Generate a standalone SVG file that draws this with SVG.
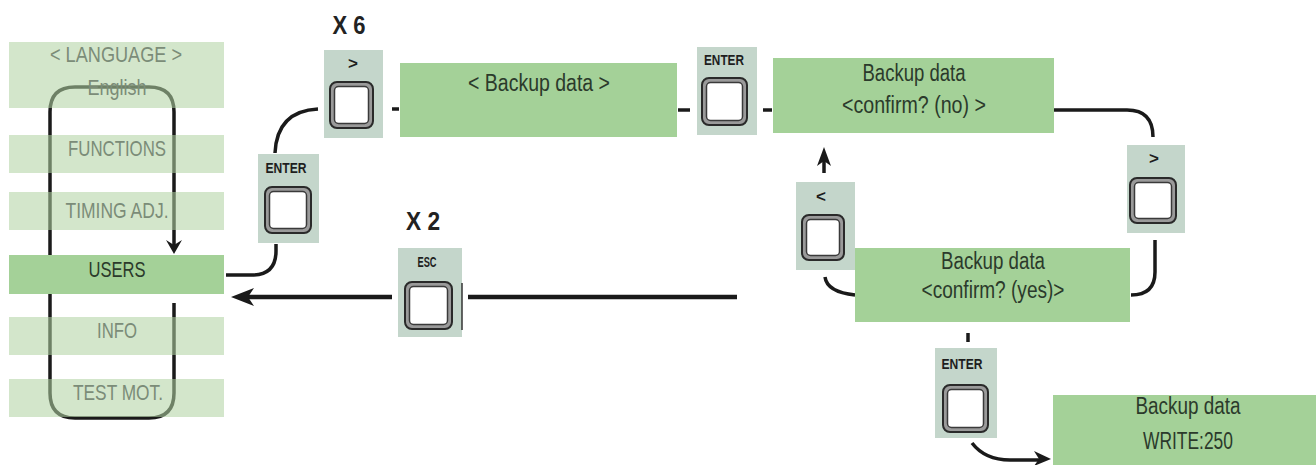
<svg xmlns="http://www.w3.org/2000/svg" width="1316" height="465" viewBox="0 0 1316 465">
<style>
.lite{fill:#b1d3a2;fill-opacity:0.56}
.box{fill:#a4d198}
.mt{font-family:"Liberation Sans",Arial,sans-serif;font-size:22px;fill:#7b8c78;text-anchor:middle}
.bt{font-family:"Liberation Sans",Arial,sans-serif;font-size:23px;fill:#2b3a2b;text-anchor:middle}
.panel{fill:#c4d6cb}
.ring{fill:#9a9a9a;stroke:#2a2a2a;stroke-width:2}
.face{fill:#ffffff;stroke:#3a3a3a;stroke-width:1.5}
.lbl{font-family:"Liberation Sans",Arial,sans-serif;font-weight:bold;font-size:14px;fill:#1e1e1e;text-anchor:middle}
.sym{font-family:"Liberation Sans",Arial,sans-serif;font-weight:bold;font-size:17px;fill:#1e1e1e;text-anchor:middle}
.cnt{font-family:"Liberation Sans",Arial,sans-serif;font-weight:bold;font-size:25px;fill:#222;text-anchor:middle}
.ln{fill:none;stroke:#1a1a1a;stroke-width:3.5;stroke-linecap:butt}
.hd{fill:#1a1a1a}
</style>

<g id="menu-loop">
<path class="ln" d="M174,303 V393 Q174,418 149,418 H75 Q50,418 50,393 V112 Q50,87 75,87 H149 Q174,87 174,112 V246"/>
<polygon class="hd" points="174,254 166,240 174,245 182,240"/>
</g>

<g id="menu-language"><rect class="lite" x="9" y="42" width="215" height="66"/><text class="mt" x="116" y="62" textLength="132" lengthAdjust="spacingAndGlyphs">&lt; LANGUAGE &gt;</text><text class="mt" x="117" y="95" textLength="59" lengthAdjust="spacingAndGlyphs">English</text></g>
<g id="menu-functions"><rect class="lite" x="9" y="135" width="215" height="38"/><text class="mt" x="117" y="156" textLength="98" lengthAdjust="spacingAndGlyphs">FUNCTIONS</text></g>
<g id="menu-timing"><rect class="lite" x="9" y="192" width="215" height="38"/><text class="mt" x="117" y="218" textLength="103" lengthAdjust="spacingAndGlyphs">TIMING ADJ.</text></g>
<g id="menu-users"><rect class="box" x="9" y="255" width="215" height="39"/><text class="bt" style="font-size:22px" x="117" y="277" textLength="57" lengthAdjust="spacingAndGlyphs">USERS</text></g>
<g id="menu-info"><rect class="lite" x="9" y="317" width="215" height="38"/><text class="mt" x="117" y="338" textLength="40" lengthAdjust="spacingAndGlyphs">INFO</text></g>
<g id="menu-testmot"><rect class="lite" x="9" y="379" width="215" height="38"/><text class="mt" x="118" y="400" textLength="90" lengthAdjust="spacingAndGlyphs">TEST MOT.</text></g>

<g id="connectors">
<path class="ln" d="M226,275 H252 Q276,275 276,251 V244"/>
<path class="ln" d="M275,153 Q277,111 318,109"/>
<path class="ln" d="M392,109 H399"/>
<path class="ln" d="M678,110 H690"/>
<path class="ln" d="M763,110 H772"/>
<path class="ln" d="M1054,110 H1127 Q1153,110 1153,137"/>
<path class="ln" d="M1155,240 V272 Q1155,295 1131,295"/>
<path class="ln" d="M855,295 Q827,292 825,277"/>
<path class="ln" d="M824,173 V160"/>
<polygon class="hd" points="824,147 831,166 824,161 817,166"/>
<path class="ln" style="stroke-width:4.5" d="M737,297 H468"/>
<path class="ln" style="stroke-width:4.5" d="M392,297 H246"/>
<polygon class="hd" points="231,297 254,288 248,297 254,306"/>
<path class="ln" d="M968,333 V342"/>
<path class="ln" d="M972,443 Q985,460 1010,460 H1040"/>
<polygon class="hd" points="1051,459 1034,451 1039,459 1034,466"/>
</g>

<g id="x6"><text class="cnt" x="349" y="34" textLength="33" lengthAdjust="spacingAndGlyphs">X 6</text></g>
<g id="x2"><text class="cnt" x="423" y="230" textLength="34" lengthAdjust="spacingAndGlyphs">X 2</text></g>

<g id="btn-right1"><rect class="panel" x="324" y="50" width="59" height="88"/><text class="sym" x="353" y="69">&gt;</text><rect class="ring" x="330" y="82" width="43" height="46" rx="7"/><rect class="face" x="334.5" y="86.5" width="34" height="37" rx="4"/></g>

<g id="box-backup"><rect class="box" x="400" y="63" width="277" height="74"/><text class="bt" x="539" y="91" textLength="142" lengthAdjust="spacingAndGlyphs">&lt; Backup data &gt;</text></g>

<g id="btn-enter2"><rect class="panel" x="697" y="47" width="60" height="88"/><text class="lbl" x="724" y="65" textLength="40" lengthAdjust="spacingAndGlyphs">ENTER</text><rect class="ring" x="702" y="78" width="45" height="47" rx="7"/><rect class="face" x="706.5" y="82.5" width="36" height="38" rx="4"/></g>

<g id="box-confirm-no"><rect class="box" x="773" y="58" width="281" height="75"/><text class="bt" x="914" y="81" textLength="103" lengthAdjust="spacingAndGlyphs">Backup data</text><text class="bt" x="914" y="113" textLength="144" lengthAdjust="spacingAndGlyphs">&lt;confirm? (no)  &gt;</text></g>

<g id="btn-right2"><rect class="panel" x="1127" y="145" width="58" height="88"/><text class="sym" x="1154" y="164">&gt;</text><rect class="ring" x="1130" y="178" width="46" height="45" rx="7"/><rect class="face" x="1134.5" y="182.5" width="37" height="36" rx="4"/></g>

<g id="btn-left"><rect class="panel" x="796" y="182" width="59" height="88"/><text class="sym" x="821" y="202">&lt;</text><rect class="ring" x="802" y="215" width="42" height="45" rx="7"/><rect class="face" x="806.5" y="219.5" width="33" height="36" rx="4"/></g>

<g id="box-confirm-yes"><rect class="box" x="855" y="248" width="275" height="74"/><text class="bt" x="993" y="269" textLength="104" lengthAdjust="spacingAndGlyphs">Backup data</text><text class="bt" x="993" y="298" textLength="143" lengthAdjust="spacingAndGlyphs">&lt;confirm? (yes)&gt;</text></g>

<g id="btn-enter1"><rect class="panel" x="258" y="154" width="61" height="89"/><text class="lbl" x="286" y="173" textLength="41" lengthAdjust="spacingAndGlyphs">ENTER</text><rect class="ring" x="265" y="187" width="46" height="46" rx="7"/><rect class="face" x="269.5" y="191.5" width="37" height="37" rx="4"/></g>

<g id="btn-esc"><rect class="panel" x="398" y="248" width="64" height="89"/><text class="lbl" x="427" y="267" textLength="19" lengthAdjust="spacingAndGlyphs">ESC</text><rect class="ring" x="405" y="282" width="47" height="47" rx="7"/><rect class="face" x="409.5" y="286.5" width="38" height="38" rx="4"/><path d="M462,283 V330" stroke="#333" stroke-width="1.5"/></g>

<g id="btn-enter3"><rect class="panel" x="935" y="348" width="62" height="90"/><text class="lbl" x="962" y="369" textLength="41" lengthAdjust="spacingAndGlyphs">ENTER</text><rect class="ring" x="943" y="385" width="45" height="47" rx="7"/><rect class="face" x="947.5" y="389.5" width="36" height="38" rx="4"/></g>

<g id="box-write"><rect class="box" x="1053" y="395" width="263" height="70"/><text class="bt" x="1188" y="414" textLength="105" lengthAdjust="spacingAndGlyphs">Backup data</text><text class="bt" x="1188" y="449" textLength="90" lengthAdjust="spacingAndGlyphs">WRITE:250</text></g>
</svg>
